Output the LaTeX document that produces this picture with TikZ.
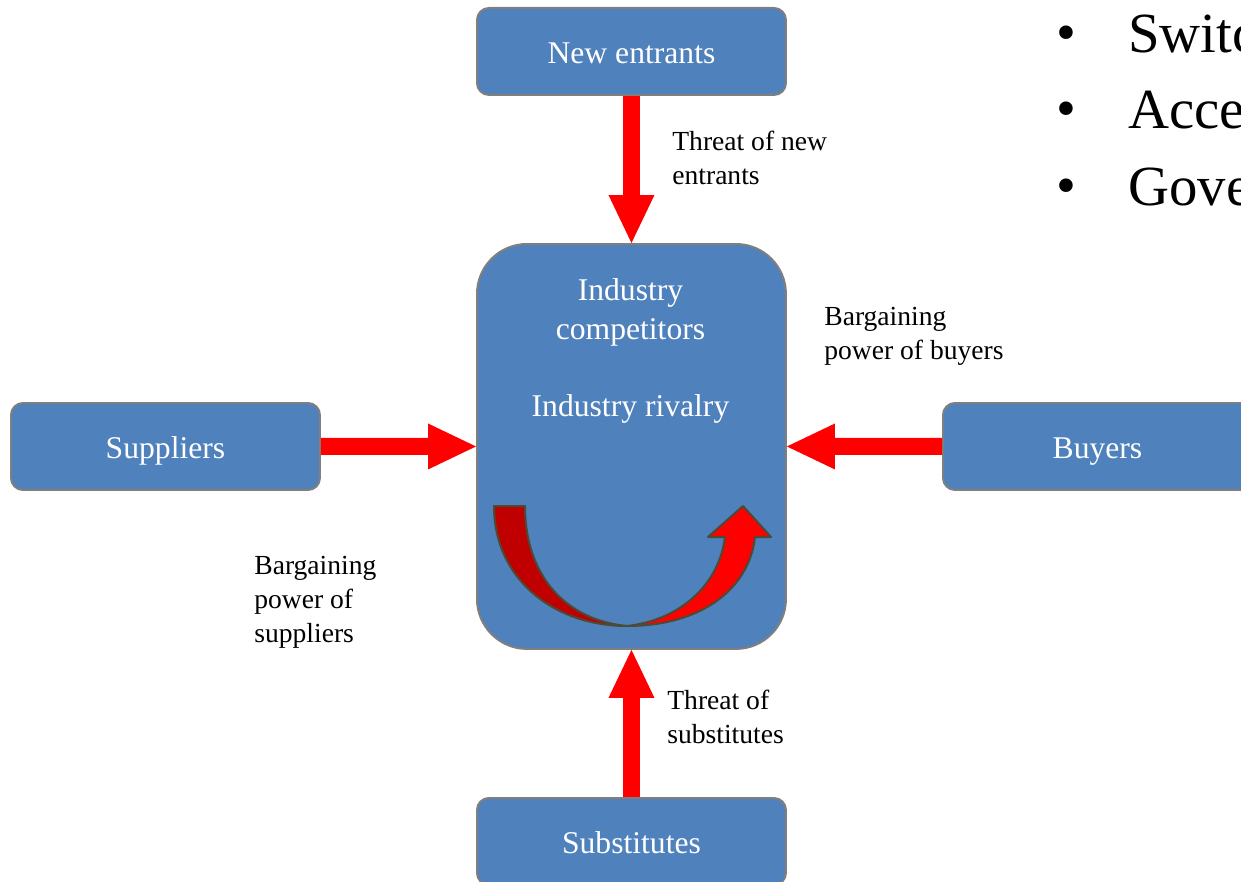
\documentclass[tikz,border=0pt]{standalone}
\usepackage{fontspec}
\setmainfont{Liberation Serif}
\usetikzlibrary{arrows.meta}
\definecolor{boxblue}{HTML}{4F81BD}
\definecolor{boxedge}{HTML}{7F7F7F}
\definecolor{forcered}{HTML}{FF0000}
\definecolor{darkred}{HTML}{C00000}
\definecolor{curveedge}{HTML}{4D4A35}
\begin{document}
\begin{tikzpicture}[x=0.02cm,y=-0.02cm,
  forcebox/.style={draw=boxedge, line width=0.04cm, fill=boxblue,
    rounded corners=0.24cm, minimum width=6.18cm, minimum height=1.74cm,
    inner sep=0pt, text=white, text height=14pt, text depth=0pt,
    font=\fontsize{18}{22}\selectfont},
  core/.style={forcebox, minimum height=8.1cm, rounded corners=1.0cm},
  coretext/.style={text=white, align=center, inner sep=0pt,
    font=\fontsize{18}{22.1}\selectfont},
  force/.style={draw=forcered, line width=0.34cm,
    -{Triangle[length=0.96cm,width=0.92cm,line width=0pt]}},
  forcelabel/.style={align=left, anchor=west, inner sep=0pt,
    font=\fontsize{15.7}{19.3}\selectfont},
  rivalryband/.style={draw=curveedge, line width=0.04cm, line join=round},
  bulletmark/.style={anchor=base, inner sep=0pt, font=\fontsize{32.3}{40}\selectfont},
  bullettext/.style={anchor=base west, inner sep=0pt, font=\fontsize{32.3}{40}\selectfont}]
\useasboundingbox (0,0) rectangle (1241,882);
\clip (0,0) rectangle (1241,882);

% the five forces
\node[forcebox, anchor=north west] (entrants) at (476,7) {New entrants};
\node[core, anchor=north west] (industry) at (476,243) {};
\node[forcebox, anchor=north west] (suppliers) at (10,402) {Suppliers};
\node[forcebox, anchor=north west] (buyers) at (942,402) {Buyers};
\node[forcebox, anchor=north west] (subs) at (476,797) {Substitutes};

\node[coretext] (competitors) at (630.5,312.5) {Industry\\competitors};
\node[coretext] (rivalry) at (630.5,408.5) {Industry rivalry};

% pressure arrows into the industry
\draw[force] (entrants.south) -- (industry.north);
\draw[force] (suppliers.east) -- (industry.west);
\draw[force] (buyers.west) -- (industry.east);
\draw[force] (subs.north) -- (industry.south);

% rivalry: curved arrow inside the industry box
\draw[rivalryband, fill=darkred] (494,506) -- (525,506)
  .. controls (525,575) and (565,620) .. (627,626)
  .. controls (555,626) and (494,580) .. (494,506) -- cycle;
\draw[rivalryband, fill=forcered] (627,626)
  .. controls (700,626) and (749,590) .. (755,537)
  -- (771,537) -- (743,506) -- (708,537) -- (725,537)
  .. controls (719,585) and (680,620) .. (627,626) -- cycle;

% labels
\node[forcelabel] (lblentrants) at (672,158) {Threat of new\\entrants};
\node[forcelabel] (lblbuyers) at (824,336) {Bargaining\\power of buyers};
\node[forcelabel] (lblsuppliers) at (254,602) {Bargaining\\power of\\suppliers};
\node[forcelabel] (lblsubs) at (667,717) {Threat of\\substitutes};

% bullet list
\node[bulletmark] (b1) at (1066,52) {•};
\node[bullettext] (t1) at (1128,53) {Switc};
\node[bulletmark] (b2) at (1066,128) {•};
\node[bullettext] (t2) at (1128,129) {Acces};
\node[bulletmark] (b3) at (1066,204) {•};
\node[bullettext] (t3) at (1128,205) {Gove};
\end{tikzpicture}
\end{document}
